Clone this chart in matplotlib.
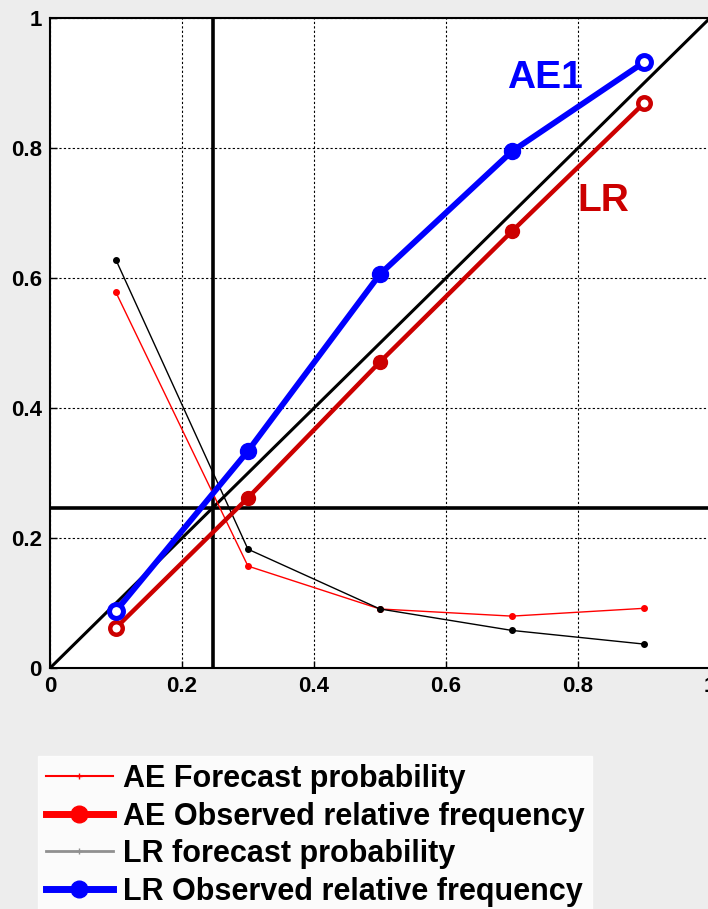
import matplotlib
matplotlib.use("Agg")
import matplotlib.pyplot as plt
from matplotlib.lines import Line2D

FONT = "Liberation Sans"

# bin centres (forecast probability bins)
bins = [0.1, 0.3, 0.5, 0.7, 0.9]

# thick curves: observed relative frequency
ae1_obs = [0.088, 0.334, 0.606, 0.795, 0.932]   # blue
lr_obs = [0.062, 0.262, 0.471, 0.672, 0.869]    # dark red

# thin curves: forecast probability (share of forecasts in each bin)
ae_fc = [0.578, 0.157, 0.091, 0.080, 0.092]     # red
lr_fc = [0.628, 0.183, 0.091, 0.058, 0.037]     # black

climatology = 0.247

legend_labels = [
    "AE Forecast probability",
    "AE Observed relative frequency",
    "LR forecast probability",
    "LR Observed relative frequency",
]

BLUE = "#0000FF"
DARKRED = "#CC0000"
RED = "#FF0000"
BLACK = "#000000"

fig = plt.figure(figsize=(7.08, 9.09), dpi=100)
fig.patch.set_facecolor("#EDEDED")
ax = fig.add_axes([0.0706, 0.265, 0.932, 0.715])
ax.set_facecolor("white")

ax.set_xlim(0, 1)
ax.set_ylim(0, 1)
ax.grid(True, color="black", linestyle=(0, (2, 2)), linewidth=0.8)
ax.set_axisbelow(True)

# perfect reliability diagonal and climatology cross-hairs
ax.plot([0, 1], [0, 1], color=BLACK, lw=2.2, zorder=3)
ax.axvline(climatology, color=BLACK, lw=2.6, zorder=3)
ax.axhline(climatology, color=BLACK, lw=2.6, zorder=3)

ax.plot(bins, ae_fc, color=RED, lw=1.0, marker="o", ms=4, zorder=4)
ax.plot(bins, lr_fc, color=BLACK, lw=1.0, marker="o", ms=4, zorder=4)

mid = [1, 2, 3]
ends = [0, len(bins) - 1]
# dark red (LR label on plot)
ax.plot(bins, lr_obs, color=DARKRED, lw=3.2, zorder=5)
ax.plot(bins, lr_obs, ls="none", color=DARKRED, marker="o", ms=10,
        markevery=mid, zorder=5)
ax.plot(bins, lr_obs, ls="none", color=DARKRED, marker="o", ms=9,
        mfc="white", mew=3.2, markevery=ends, zorder=5)
# blue (AE1 label on plot)
ax.plot(bins, ae1_obs, color=BLUE, lw=4.2, zorder=6)
ax.plot(bins, ae1_obs, ls="none", color=BLUE, marker="o", ms=11.5,
        markevery=mid, zorder=6)
ax.plot(bins, ae1_obs, ls="none", color=BLUE, marker="o", ms=10,
        mfc="white", mew=3.6, markevery=ends, zorder=6)

ax.text(0.75, 0.908, "AE1", color=BLUE, fontsize=28, fontweight="bold",
        fontfamily=FONT, ha="center", va="center")
ax.text(0.838, 0.719, "LR", color=DARKRED, fontsize=28, fontweight="bold",
        fontfamily=FONT, ha="center", va="center")

ticks = [0, 0.2, 0.4, 0.6, 0.8, 1]
ax.set_xticks(ticks)
ax.set_yticks(ticks)
ax.set_xticklabels(["0", "0.2", "0.4", "0.6", "0.8", "1"])
ax.set_yticklabels(["0", "0.2", "0.4", "0.6", "0.8", "1"])
for lab in ax.get_xticklabels() + ax.get_yticklabels():
    lab.set_fontfamily(FONT)
    lab.set_fontweight("bold")
    lab.set_fontsize(16)
ax.tick_params(direction="in", length=5, width=1, pad=6)
for sp in ax.spines.values():
    sp.set_linewidth(1.5)
    sp.set_color("black")

handles = [
    Line2D([], [], color=RED, lw=1.5, marker="+", ms=5),
    Line2D([], [], color=RED, lw=5, marker="o", ms=12),
    Line2D([], [], color="#909090", lw=2, marker="+", ms=5),
    Line2D([], [], color=BLUE, lw=5, marker="o", ms=12),
]
leg = fig.legend(handles, legend_labels, loc="lower left",
                 bbox_to_anchor=(0.054, -0.006), frameon=True, fancybox=False,
                 handlelength=2.2, handletextpad=0.33, labelspacing=0.25,
                 borderpad=0.25, borderaxespad=0.0,
                 prop={"family": FONT, "weight": "bold", "size": 22})
leg.get_frame().set_facecolor("white")
leg.get_frame().set_edgecolor("white")

fig.savefig("out.png", dpi=100, facecolor=fig.get_facecolor())
